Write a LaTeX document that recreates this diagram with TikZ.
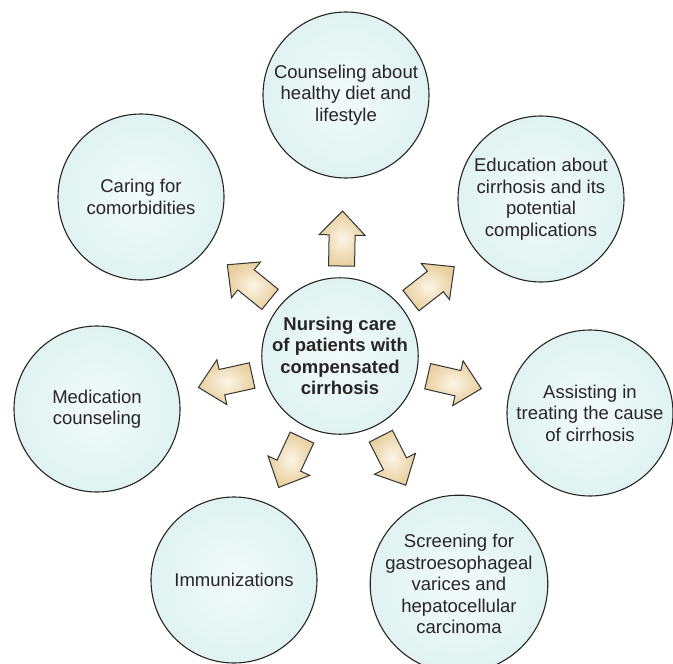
\documentclass[tikz,border=0pt]{standalone}
\usepackage{fontspec}
\setmainfont{Liberation Sans}
\definecolor{teallight}{HTML}{F2FBFA}
\definecolor{tealmid}{HTML}{DDF2EF}
\definecolor{tealdark}{HTML}{BCE4DD}
\definecolor{beigelight}{HTML}{FCF5E6}
\definecolor{beigedark}{HTML}{E8CF9E}
\definecolor{textgrey}{HTML}{262626}
\pgfdeclareradialshading{bubbleshade}{\pgfpoint{0bp}{0bp}}{color(0bp)=(teallight); color(28bp)=(tealmid); color(50bp)=(tealdark)}
\tikzset{
  bubble/.style={circle, draw=black!85, line width=1.1pt, shading=bubbleshade,
    minimum size=166pt, inner sep=0pt, align=center, text=textgrey,
    font=\fontsize{18.5}{21.5}\selectfont},
  hub/.style={bubble, minimum size=148pt, font=\bfseries\fontsize{18.5}{21.5}\selectfont},
  blockarrow/.style={draw=black!80, line width=1pt, line join=miter, inner color=beigelight, outer color=beigedark}
}
\newcommand\blockarr[1]{%
  \begin{scope}[shift={(hub.center)}, rotate=#1]
    \draw[blockarrow] (90pt,-13pt) -- (121pt,-13pt) -- (121pt,-23pt) -- (145pt,0pt)
      -- (121pt,23pt) -- (121pt,13pt) -- (90pt,13pt) -- cycle;
  \end{scope}}
\begin{document}
\begin{tikzpicture}[x=1pt, y=-1pt]
  \useasboundingbox (0,0) rectangle (673,664);
  \node[hub] (hub) at (340,356) {Nursing care\\of patients with\\compensated\\cirrhosis};
  \node[bubble] (top) at (346,95) {Counseling about\\healthy diet and\\lifestyle};
  \node[bubble] (edu) at (541,199) {Education about\\cirrhosis and its\\potential\\complications};
  \node[bubble] (assist) at (590,413) {Assisting in\\treating the cause\\of cirrhosis};
  \node[bubble] (screen) at (459,584) {Screening for\\gastroesophageal\\varices and\\hepatocellular\\carcinoma};
  \node[bubble] (immun) at (234,580) {Immunizations};
  \node[bubble] (medic) at (97,409) {Medication\\counseling};
  \node[bubble] (caring) at (141,197) {Caring for\\comorbidities};
  \blockarr{89}
  \blockarr{38}
  \blockarr{-13}
  \blockarr{-63}
  \blockarr{-115}
  \blockarr{-167.5}
  \blockarr{141}
\end{tikzpicture}
\end{document}
